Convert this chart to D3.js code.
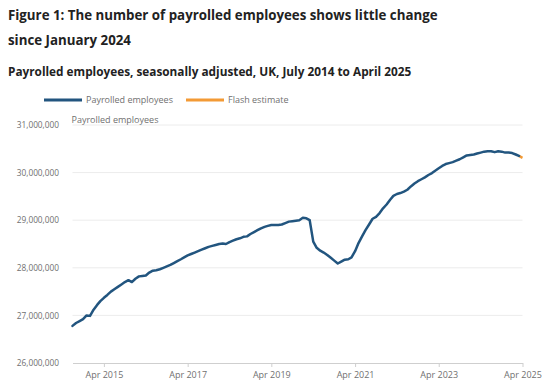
<!DOCTYPE html>
<html>
<head>
<meta charset="utf-8">
<script src="https://cdn.jsdelivr.net/npm/d3@7"></script>
<style>
  html, body { margin: 0; padding: 0; background: #fff; }
  svg { display: block; font-family: "Open Sans", "Noto Sans", sans-serif; }
</style>
</head>
<body>
<svg id="chart" width="550" height="390"></svg>
<script>
// ---- Data ----
const titleLines = ["Figure 1: The number of payrolled employees shows little change", "since January 2024"];
const subtitle = "Payrolled employees, seasonally adjusted, UK, July 2014 to April 2025";
const seriesNames = ["Payrolled employees", "Flash estimate"];
const firstMonth = "2014-07";   // first monthly observation
// Payrolled employees (millions), monthly Jul 2014 - Mar 2025
const payrolled = [
  26.78, 26.84, 26.88, 26.92, 27.00, 26.99, 27.12, 27.22, 27.30, 27.37, 27.43, 27.50,
  27.55, 27.60, 27.65, 27.70, 27.74, 27.70, 27.77, 27.82, 27.83, 27.84, 27.90, 27.94,
  27.95, 27.97, 28.00, 28.03, 28.06, 28.10, 28.14, 28.18, 28.22, 28.26, 28.29, 28.32,
  28.35, 28.38, 28.41, 28.44, 28.46, 28.48, 28.50, 28.51, 28.50, 28.54, 28.57, 28.60,
  28.62, 28.65, 28.66, 28.71, 28.75, 28.79, 28.83, 28.86, 28.88, 28.90, 28.90, 28.90,
  28.91, 28.94, 28.97, 28.98, 28.99, 29.00, 29.05, 29.04, 29.00, 28.55, 28.42, 28.36,
  28.32, 28.27, 28.21, 28.15, 28.09, 28.13, 28.17, 28.18, 28.22, 28.35, 28.52, 28.66,
  28.79, 28.91, 29.03, 29.07, 29.15, 29.25, 29.33, 29.43, 29.51, 29.55, 29.57, 29.60,
  29.64, 29.71, 29.77, 29.82, 29.86, 29.90, 29.95, 29.99, 30.04, 30.09, 30.14, 30.18,
  30.20, 30.22, 30.25, 30.28, 30.32, 30.36, 30.37, 30.38, 30.40, 30.42, 30.44, 30.45,
  30.45, 30.43, 30.45, 30.44, 30.42, 30.42, 30.41, 30.38, 30.35
];
// Flash estimate (millions): Mar 2025 (joins the series) and Apr 2025
const flashMonths = ["2025-03", "2025-04"];
const flash = [30.35, 30.31];
const yTicks = [26000000, 27000000, 28000000, 29000000, 30000000, 31000000];
const xTickMonths = ["2015-04", "2017-04", "2019-04", "2021-04", "2023-04", "2025-04"];
const xDomainMonths = ["2014-07", "2025-04"];

// ---- Setup ----
const parse = d3.timeParse("%Y-%m");
const start = parse(firstMonth);
const payData = payrolled.map((v, i) => ({ date: d3.timeMonth.offset(start, i), value: v * 1e6 }));
const flashData = flash.map((v, i) => ({ date: parse(flashMonths[i]), value: v * 1e6 }));

const svg = d3.select("#chart");
const margin = { left: 72.5, right: 27.5, top: 125, bottom: 27 };
const W = 550, H = 390;

const x = d3.scaleTime()
  .domain(xDomainMonths.map(parse))
  .range([margin.left, W - margin.right]);
const y = d3.scaleLinear()
  .domain([26000000, 31000000])
  .range([H - margin.bottom, margin.top]);

const blue = "#22557f";
const orange = "#f39a35";

// Titles
const title = svg.append("g").attr("fill", "#222").attr("font-weight", 700);
title.selectAll("text").data(titleLines).join("text")
  .attr("x", 8).attr("y", (d, i) => 20 + i * 25)
  .attr("font-size", "13.3px").text(d => d);
svg.append("text").attr("x", 8).attr("y", 76)
  .attr("font-size", "11.8px").attr("font-weight", 700).attr("fill", "#222")
  .text(subtitle);

// Legend
const legend = svg.append("g").attr("font-size", "9px").attr("fill", "#707070");
const legendItems = [
  { name: seriesNames[0], color: blue, x: 44 },
  { name: seriesNames[1], color: orange, x: 186 }
];
legendItems.forEach(it => {
  legend.append("line").attr("x1", it.x).attr("x2", it.x + 38)
    .attr("y1", 100).attr("y2", 100)
    .attr("stroke", it.color).attr("stroke-width", 3);
  legend.append("text").attr("x", it.x + 42).attr("y", 103).text(it.name);
});

// Gridlines
svg.append("g").selectAll("line").data(yTicks.filter(t => t > 26000000)).join("line")
  .attr("x1", margin.left).attr("x2", W - margin.right)
  .attr("y1", d => y(d)).attr("y2", d => y(d))
  .attr("stroke", "#ececec").attr("stroke-width", 1);

// Y axis
const yAxis = svg.append("g")
  .attr("transform", `translate(${margin.left - 13.5},0)`)
  .call(d3.axisLeft(y).tickValues(yTicks).tickFormat(d3.format(",")).tickSize(0).tickPadding(0));
yAxis.select(".domain").remove();
yAxis.selectAll("text").attr("font-size", "8.3px").attr("fill", "#707070")
  .attr("font-family", "'Open Sans', sans-serif");

svg.append("text").attr("x", margin.left - 1).attr("y", 122.5)
  .attr("font-size", "9px").attr("fill", "#707070").text(seriesNames[0]);

// X axis
const xAxis = svg.append("g")
  .attr("transform", `translate(0,${H - margin.bottom})`)
  .call(d3.axisBottom(x).tickValues(xTickMonths.map(parse))
    .tickFormat(d3.timeFormat("%b %Y")).tickSize(4).tickSizeOuter(0).tickPadding(5));
xAxis.select(".domain").attr("stroke", "#cfcfcf");
xAxis.selectAll(".tick line").attr("stroke", "#cfcfcf");
xAxis.selectAll("text").attr("font-size", "9px").attr("fill", "#707070")
  .attr("font-family", "'Open Sans', sans-serif");

// Lines
const line = d3.line().x(d => x(d.date)).y(d => y(d.value)).curve(d3.curveLinear);
svg.append("path").datum(flashData)
  .attr("fill", "none").attr("stroke", orange).attr("stroke-width", 2.5)
  .attr("d", line);
svg.append("path").datum(payData)
  .attr("fill", "none").attr("stroke", blue).attr("stroke-width", 2.5)
  .attr("stroke-linejoin", "round").attr("stroke-linecap", "round")
  .attr("d", line);
</script>
</body>
</html>
